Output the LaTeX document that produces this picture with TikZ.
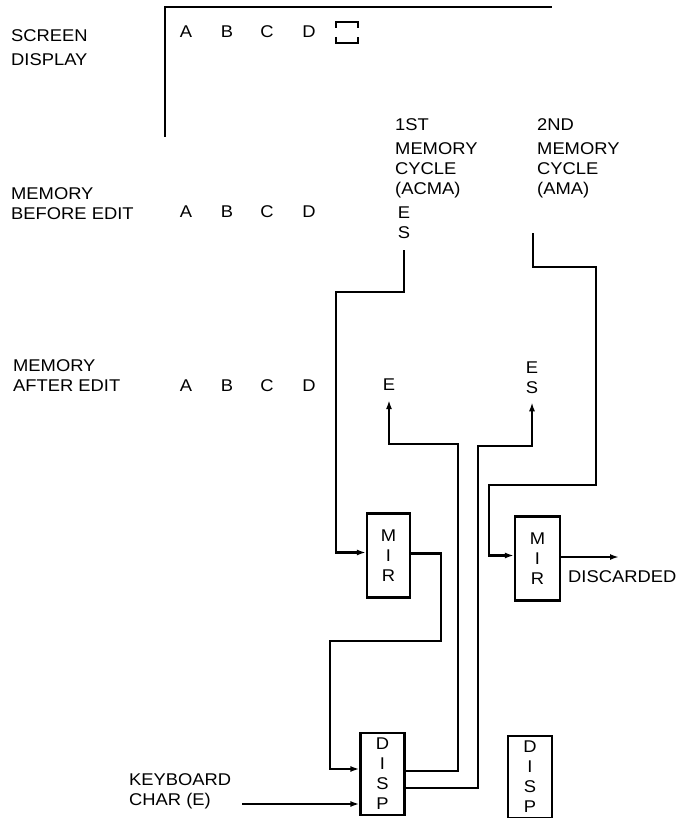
\documentclass[tikz,border=0pt]{standalone}
\usepackage{fontspec}
\setmainfont[FakeStretch=1.08]{Liberation Sans}
\usetikzlibrary{arrows.meta}

\begin{document}
\begin{tikzpicture}[x=1pt,y=-1pt,>={Latex[length=9pt,width=6pt]},
  lbl/.style={font=\fontsize{17}{20}\selectfont,inner sep=0pt},
  wire/.style={line width=2.2pt},
  regbox/.style={lbl,draw,line width=2.2pt,align=center,minimum width=44pt,minimum height=84pt}]
  \useasboundingbox (0,0) rectangle (695,818);

  % screen frame and cursor
  \draw[wire] (165,137) -- (165,7) -- (552,7);
  \draw[line width=1.8pt] (336,28) |- (358,22) -- (358,28);
  \draw[line width=1.8pt] (336,37) |- (358,43) -- (358,37);

  % row titles
  \node[lbl,align=left,anchor=north west] (scrlbl) at (11,29) {SCREEN\\[4pt]DISPLAY};
  \node[lbl,align=left,anchor=north west] (beflbl) at (11,187) {MEMORY\\BEFORE EDIT};
  \node[lbl,align=left,anchor=north west] (aftlbl) at (13,359) {MEMORY\\AFTER EDIT};
  \node[lbl,align=left,anchor=north west] (cyc1) at (395,118) {1ST\\[4pt]MEMORY\\CYCLE\\(ACMA)};
  \node[lbl,align=left,anchor=north west] (cyc2) at (537,118) {2ND\\[4pt]MEMORY\\CYCLE\\(AMA)};
  \node[lbl,align=left,anchor=north west] (kbd) at (129,773) {KEYBOARD\\CHAR (E)};

  % character rows
  \foreach \row/\y in {scr/38,bef/218,aft/391}{
    \foreach \x/\c in {186/A,227/B,267/C,309/D}{
      \node[lbl,anchor=base] (\row\c) at (\x,\y) {\c};
    }
  }
  \node[lbl,align=center,anchor=north] (es1) at (404,207) {E\\S};
  \node[lbl,anchor=north] (eaft) at (389,379) {E};
  \node[lbl,align=center,anchor=north] (esaft) at (532,362) {E\\S};
  \coordinate (src2) at (533,233);

  % registers
  \node[regbox,minimum width=43pt] (mir1) at (388.5,555.5) {M\\I\\R};
  \node[regbox,minimum width=45pt] (mir2) at (537.5,558.5) {M\\I\\R};
  \node[regbox,minimum height=82pt] (disp1) at (382.5,774) {D\\I\\S\\P};
  \node[regbox,minimum height=82pt] (disp2) at (530,777) {D\\I\\S\\P};
  \node[lbl,anchor=north west] (disc) at (568,570) {DISCARDED};
  \coordinate (discend) at (619,557);
  \coordinate (kin) at (242,804);

  % data paths
  \draw[wire,->] ([yshift=-11pt]es1.south) |- (336,292) |- ([yshift=3pt]mir1.west);
  \draw[wire,->] (src2) |- (596,267) |- (489,485) |- ([yshift=3pt]mir2.west);
  \draw[wire,->] ([yshift=2pt]mir1.east) -| (441,641) -- (330,641) |- ([yshift=5pt]disp1.west);
  \draw[wire,->] ([yshift=3pt]disp1.east) -| (458,444) -| ([yshift=-9pt]eaft.south);
  \draw[wire,->] ([yshift=-14pt]disp1.east) -| (478,446) -| ([yshift=-8pt]esaft.south);
  \draw[wire,->] ([yshift=1.5pt]mir2.east) -- (discend);
  \draw[wire,->] (kin) -- (kin -| disp1.west);
\end{tikzpicture}
\end{document}
